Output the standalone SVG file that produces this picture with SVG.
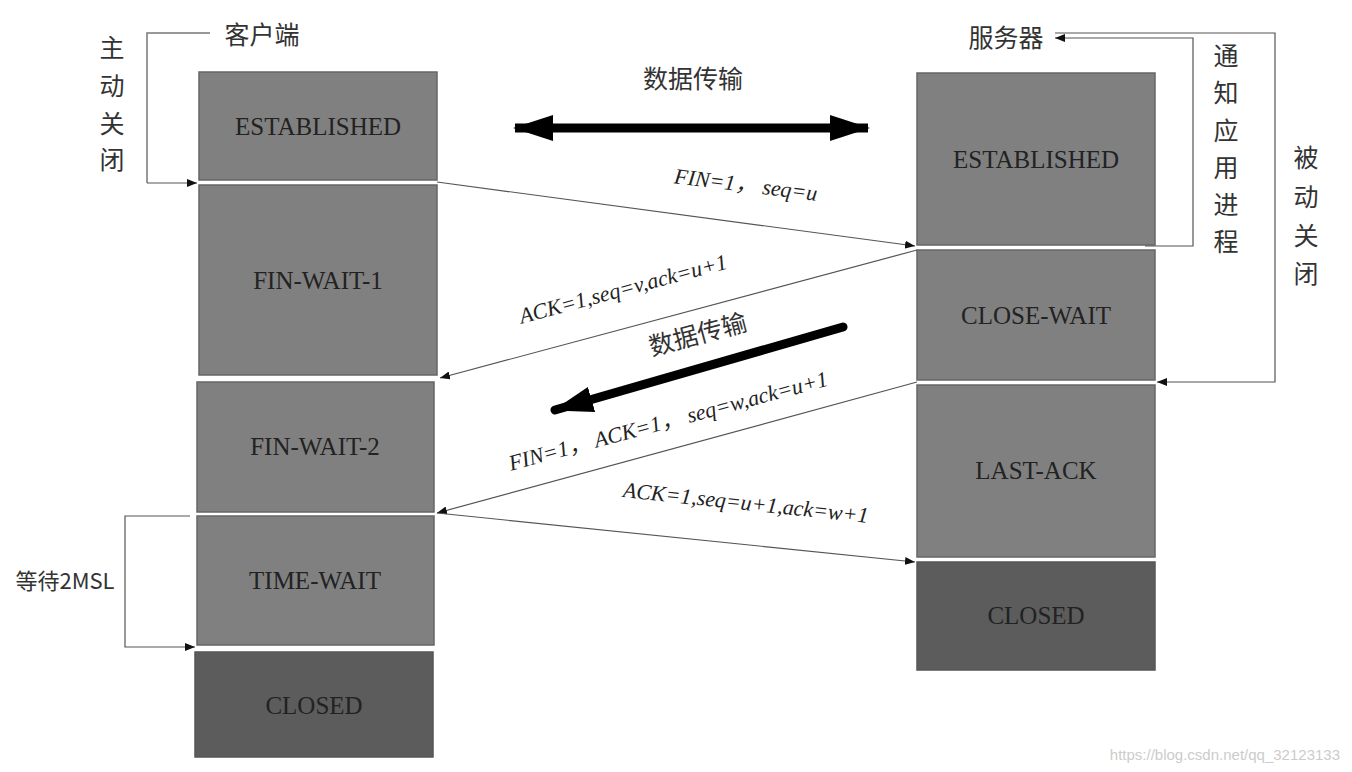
<svg xmlns="http://www.w3.org/2000/svg" width="1352" height="772" viewBox="0 0 1352 772">
<style>
.b{fill:#808080;stroke:#666;stroke-width:1.5}
.d{fill:#5c5c5c;stroke:#555;stroke-width:1.5}
.t{font-family:"Liberation Serif","Noto Sans CJK SC",serif;font-size:25px;fill:#222;text-anchor:middle}
.c{font-family:"Noto Sans CJK SC",sans-serif;font-size:25px;fill:#333;text-anchor:middle}
.l{font-family:"Liberation Serif","Noto Sans CJK SC",serif;font-size:22px;fill:#222;text-anchor:middle}
.ln{fill:none;stroke:#777;stroke-width:1.5}
.ar{fill:none;stroke:#555;stroke-width:1.2;marker-end:url(#a)}
</style>
<defs>
<marker id="a" markerWidth="10" markerHeight="8" refX="10" refY="4" orient="auto" markerUnits="userSpaceOnUse"><path d="M0,0L10,4L0,8z" fill="#111"/></marker>
<marker id="big" markerWidth="40" markerHeight="26" refX="38" refY="13" orient="auto" markerUnits="userSpaceOnUse"><path d="M0,0L40,13L0,26z" fill="#000"/></marker>
<marker id="bigs" markerWidth="40" markerHeight="26" refX="2" refY="13" orient="auto" markerUnits="userSpaceOnUse"><path d="M40,0L0,13L40,26z" fill="#000"/></marker>
</defs>
<rect width="1352" height="772" fill="#fff"/>
<g id="c-est"><rect class="b" x="199" y="72" width="238" height="108"/><text class="t" x="318" y="135">ESTABLISHED</text></g>
<g id="c-fw1"><rect class="b" x="199" y="185" width="238" height="190"/><text class="t" x="318" y="289">FIN-WAIT-1</text></g>
<g id="c-fw2"><rect class="b" x="197" y="382" width="237" height="130"/><text class="t" x="315" y="455">FIN-WAIT-2</text></g>
<g id="c-tw"><rect class="b" x="197" y="516" width="237" height="129"/><text class="t" x="315" y="589">TIME-WAIT</text></g>
<g id="c-cl"><rect class="d" x="195" y="652" width="238" height="105"/><text class="t" x="314" y="714">CLOSED</text></g>
<g id="s-est"><rect class="b" x="917" y="73" width="238" height="172"/><text class="t" x="1036" y="168">ESTABLISHED</text></g>
<g id="s-cw"><rect class="b" x="917" y="250" width="238" height="130"/><text class="t" x="1036" y="324">CLOSE-WAIT</text></g>
<g id="s-la"><rect class="b" x="917" y="385" width="238" height="172"/><text class="t" x="1036" y="479">LAST-ACK</text></g>
<g id="s-cl"><rect class="d" x="917" y="562" width="238" height="108"/><text class="t" x="1036" y="624">CLOSED</text></g>
<g id="labels">
<text class="c" x="262" y="44">客户端</text>
<text class="c" x="1006" y="47">服务器</text>
<text class="c" x="112" y="57">主</text><text class="c" x="112" y="95">动</text><text class="c" x="112" y="133">关</text><text class="c" x="112" y="169">闭</text>
<text class="c" x="1226" y="65">通</text><text class="c" x="1226" y="102">知</text><text class="c" x="1226" y="140">应</text><text class="c" x="1226" y="177">用</text><text class="c" x="1226" y="214">进</text><text class="c" x="1226" y="251">程</text>
<text class="c" x="1306" y="167">被</text><text class="c" x="1306" y="206">动</text><text class="c" x="1306" y="245">关</text><text class="c" x="1306" y="283">闭</text>
<text class="c" x="65" y="589" style="font-size:22px">等待2MSL</text>
<text class="c" x="693" y="88">数据传输</text>
<text class="c" transform="translate(700,343) rotate(-15)">数据传输</text>
<text class="l" font-style="italic" transform="translate(745,192) rotate(7)">FIN=1， seq=u</text>
<text class="l" font-style="italic" transform="translate(625,296) rotate(-15)">ACK=1,seq=v,ack=u+1</text>
<text class="l" font-style="italic" transform="translate(670,428) rotate(-15)">FIN=1， ACK=1， seq=w,ack=u+1</text>
<text class="l" font-style="italic" transform="translate(745,510) rotate(6)">ACK=1,seq=u+1,ack=w+1</text>
<text x="1340" y="760" text-anchor="end" font-family="Liberation Sans,sans-serif" font-size="15" fill="#ccc">https://blog.csdn.net/qq_32123133</text>
</g>
<g id="connectors">
<polyline class="ln" points="210,33 147,33 147,183" /><line class="ar" x1="147" y1="183" x2="197" y2="183"/>
<polyline class="ln" points="1145,245 1193,38" style="display:none"/>
<polyline class="ar" points="1145,246 1193,246 1193,38 1055,38"/>
<polyline class="ar" points="1055,33 1275,33 1275,382 1157,382"/>
<polyline class="ar" points="190,516 125,516 125,647 195,647"/>
<line class="ar" x1="437" y1="182" x2="915" y2="246"/>
<line class="ar" x1="917" y1="250" x2="440" y2="378"/>
<line class="ar" x1="917" y1="382" x2="437" y2="513"/>
<line class="ar" x1="437" y1="513" x2="915" y2="562"/>
<line x1="515" y1="128" x2="868" y2="128" stroke="#000" stroke-width="9" marker-start="url(#bigs)" marker-end="url(#big)"/>
<line x1="843" y1="327" x2="555" y2="410" stroke="#000" stroke-width="9" stroke-linecap="round" marker-end="url(#big)"/>
</g>
</svg>
